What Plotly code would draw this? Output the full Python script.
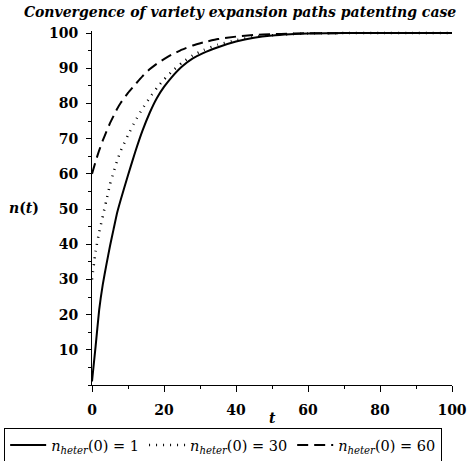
import plotly.graph_objects as go

# time grid and the three variety paths n(t)
t = [0, 1, 2, 3, 4, 5, 6, 7, 8, 10, 12, 14, 16, 18, 20, 22, 25, 28, 31, 35,
     40, 45, 50, 55, 60, 70, 80, 90, 100]
n_start_1 = [1, 11, 21.4, 28.6, 34.2, 39.5, 44.3, 49, 52.7, 59.6, 66.2, 72.2, 77.3,
             81.5, 84.7, 87.3, 90.5, 92.8, 94.4, 96.0, 97.6, 98.7, 99.35, 99.7, 99.9,
             100, 100, 100, 100]
n_start_30 = [30, 38, 43.4, 48, 52.5, 57, 60.5, 63.8, 66.6, 71, 75, 78.5, 81.6, 84.4,
              86.8, 88.9, 91.6, 93.7, 95.2, 96.7, 98.0, 98.9, 99.4, 99.7, 99.9,
              100, 100, 100, 100]
n_start_60 = [60, 63.5, 66.7, 69.5, 72, 74.4, 76.5, 78.5, 80.2, 83, 85.4, 87.7, 89.7,
              91.3, 92.6, 93.8, 95.3, 96.5, 97.4, 98.3, 99.0, 99.45, 99.7, 99.85, 99.95,
              100, 100, 100, 100]

legend_names = ["<i>n<sub>heter</sub></i>(0) = 1",
                "<i>n<sub>heter</sub></i>(0) = 30",
                "<i>n<sub>heter</sub></i>(0) = 60"]

x_ticks = [0, 20, 40, 60, 80, 100]
y_ticks = [10, 20, 30, 40, 50, 60, 70, 80, 90, 100]

SERIF = "DejaVu Serif"

fig = go.Figure()
fig.add_trace(go.Scatter(x=t, y=n_start_1, mode="lines", name=legend_names[0],
                         line=dict(color="black", width=2, shape="spline", smoothing=0.4)))
fig.add_trace(go.Scatter(x=t, y=n_start_30, mode="lines", name=legend_names[1],
                         line=dict(color="black", width=2.5, dash="1px,6px",
                                   shape="spline", smoothing=0.4)))
fig.add_trace(go.Scatter(x=t, y=n_start_60, mode="lines", name=legend_names[2],
                         line=dict(color="black", width=2, dash="11px,6px",
                                   shape="spline", smoothing=0.4)))

tick_font = dict(family=SERIF, size=14, color="black", weight="bold")

fig.update_layout(
    width=468, height=461,
    margin=dict(l=92, r=16, t=31, b=76, pad=0, autoexpand=False),
    paper_bgcolor="white", plot_bgcolor="white",
    title=dict(text="<b><i>Convergence of variety expansion paths patenting case</i></b>",
               font=dict(family=SERIF, size=14, color="black"),
               xref="container", x=0.513, xanchor="center",
               yref="container", y=0.974, yanchor="middle"),
    showlegend=True,
    # anchored below the axes and in the left margin so one row spans the width
    legend=dict(orientation="h", xref="paper", x=-0.244, xanchor="left",
                yref="paper", y=-0.1215, yanchor="top",
                bordercolor="black", borderwidth=1, bgcolor="white",
                font=dict(family=SERIF, size=14.5, color="black"),
                itemwidth=36, tracegroupgap=0),
    xaxis=dict(range=[0, 100], tickvals=x_ticks, ticks="outside", ticklen=6,
               tickcolor="black", showline=True, linecolor="black", linewidth=1,
               showgrid=False, zeroline=False, tickfont=tick_font,
               ticklabelstandoff=6,
               minor=dict(tickmode="linear", tick0=0, dtick=10, ticks="outside",
                          ticklen=3, tickcolor="black", showgrid=False)),
    yaxis=dict(range=[0, 100.6], tickvals=y_ticks, ticks="outside", ticklen=5,
               tickcolor="black", showline=True, linecolor="black", linewidth=1,
               showgrid=False, zeroline=False, tickfont=tick_font,
               ticklabelstandoff=5,
               minor=dict(tickmode="linear", tick0=0, dtick=5, ticks="outside",
                          ticklen=3, tickcolor="black", showgrid=False)),
    annotations=[
        dict(text="<b><i>t</i></b>", xref="paper", yref="paper", x=0.5, y=-0.093,
             xanchor="center", yanchor="middle", showarrow=False,
             font=dict(family=SERIF, size=14, color="black")),
        dict(text="<b><i>n</i>(<i>t</i>)</b>", xref="paper", yref="paper", x=-0.19,
             y=0.5, xanchor="center", yanchor="middle", showarrow=False,
             font=dict(family=SERIF, size=14, color="black")),
    ],
)

fig.write_html("out.html")
